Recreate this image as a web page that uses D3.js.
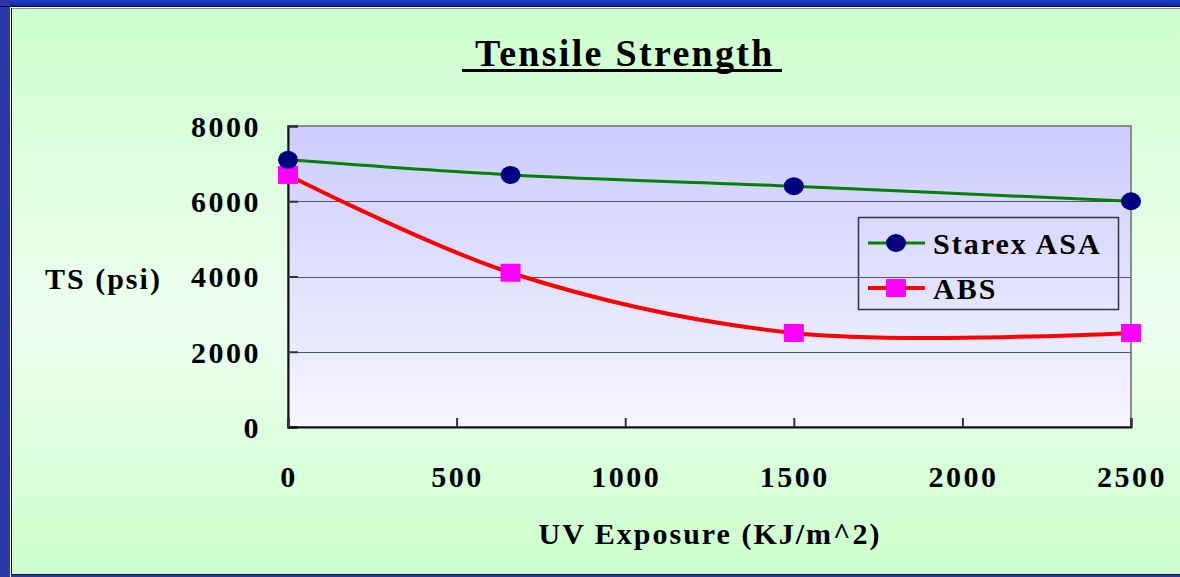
<!DOCTYPE html>
<html>
<head>
<meta charset="utf-8">
<script src="https://cdn.jsdelivr.net/npm/d3@7"></script>
<style>
  body { margin: 0; background: #ccffcc; }
  text { font-family: "Liberation Serif", "Times New Roman", serif; font-weight: bold; fill: #000; }
</style>
</head>
<body>
<script>
// data
var exposure = [0, 660, 1500, 2500];
var starexASA = [7100, 6700, 6400, 6000];
var abs = [6700, 4100, 2500, 2500];
var xTicks = [0, 500, 1000, 1500, 2000, 2500];
var yTicks = [0, 2000, 4000, 6000, 8000];
var seriesNames = ["Starex ASA", "ABS"];

var w = 1180, h = 577;
var plot = {left: 288, right: 1131, top: 126, bottom: 427};

var x = d3.scaleLinear().domain([0, 2500]).range([plot.left, plot.right]);
var y = d3.scaleLinear().domain([0, 8000]).range([plot.bottom, plot.top]);

const svg = d3.select("body").append("svg").attr("width", w).attr("height", h);
var defs = svg.append("defs");

// green page background, lighter in the middle
var gbg = defs.append("linearGradient").attr("id", "bg").attr("x1", 0).attr("y1", 0).attr("x2", 0).attr("y2", 1);
gbg.append("stop").attr("offset", "0%").attr("stop-color", "#ccffcc");
gbg.append("stop").attr("offset", "55%").attr("stop-color", "#eefff0");
gbg.append("stop").attr("offset", "100%").attr("stop-color", "#ccffcc");

var gplot = defs.append("linearGradient").attr("id", "pg").attr("x1", 0).attr("y1", 0).attr("x2", 0).attr("y2", 1);
gplot.append("stop").attr("offset", "0%").attr("stop-color", "#ccccff");
gplot.append("stop").attr("offset", "100%").attr("stop-color", "#f6f6ff");

var gtop = defs.append("linearGradient").attr("id", "tb").attr("x1", 0).attr("y1", 0).attr("x2", 0).attr("y2", 1);
gtop.append("stop").attr("offset", "0%").attr("stop-color", "#2040c8");
gtop.append("stop").attr("offset", "100%").attr("stop-color", "#0a2aa0");

svg.append("rect").attr("width", w).attr("height", h).attr("fill", "url(#bg)");

// frame
svg.append("rect").attr("x", 0).attr("y", 0).attr("width", w).attr("height", 6).attr("fill", "url(#tb)");
svg.append("rect").attr("x", 0).attr("y", 0).attr("width", 10).attr("height", h).attr("fill", "#2a38a8");
svg.append("line").attr("x1", 0).attr("x2", w).attr("y1", 6.5).attr("y2", 6.5).attr("stroke", "#000050");
svg.append("line").attr("x1", 10).attr("x2", w).attr("y1", 7.5).attr("y2", 7.5).attr("stroke", "#ffffff");
svg.append("line").attr("x1", 12).attr("x2", w).attr("y1", 8.5).attr("y2", 8.5).attr("stroke", "#8890a0");
svg.append("line").attr("x1", 10.5).attr("x2", 10.5).attr("y1", 7).attr("y2", h).attr("stroke", "#ffffff");
svg.append("line").attr("x1", 11.5).attr("x2", 11.5).attr("y1", 8).attr("y2", h).attr("stroke", "#000050");
svg.append("rect").attr("x", 11).attr("y", 574).attr("width", w).attr("height", 3).attr("fill", "#2a38a8");
svg.append("line").attr("x1", 11).attr("x2", w).attr("y1", 574.5).attr("y2", 574.5).attr("stroke", "#101040");

// title
svg.append("text").attr("x", 475).attr("y", 66)
  .style("font-size", "38px").style("letter-spacing", "2.3px").text("Tensile Strength");
svg.append("rect").attr("x", 462).attr("y", 69).attr("width", 320).attr("height", 3).attr("fill", "#000");

// plot area
svg.append("rect").attr("x", plot.left).attr("y", plot.top)
  .attr("width", plot.right - plot.left).attr("height", plot.bottom - plot.top)
  .attr("fill", "url(#pg)").attr("stroke", "#8a8a8a").attr("stroke-width", 2);

// gridlines
svg.append("g").selectAll("line").data(yTicks.filter(function(d){ return d > 0 && d < 8000; }))
  .enter().append("line")
  .attr("x1", plot.left).attr("x2", plot.right)
  .attr("y1", function(d){ return Math.round(y(d)) + 0.5; })
  .attr("y2", function(d){ return Math.round(y(d)) + 0.5; })
  .attr("stroke", "#555560").attr("stroke-width", 1);

// axes with inner ticks
var yAxis = svg.append("g").attr("transform", "translate(" + plot.left + ",0)")
  .call(d3.axisRight(y).tickValues(yTicks).tickSize(10).tickFormat(""));
var xAxis = svg.append("g").attr("transform", "translate(0," + plot.bottom + ")")
  .call(d3.axisTop(x).tickValues(xTicks).tickSize(9).tickFormat(""));
[xAxis, yAxis].forEach(function(a){
  a.select(".domain").attr("stroke", "#111").attr("stroke-width", 2);
  a.selectAll(".tick line").attr("stroke", "#333").attr("stroke-width", 2);
});

// tick labels
svg.append("g").selectAll("text").data(yTicks).enter().append("text")
  .attr("x", 261).attr("y", function(d){ return y(d); }).attr("dy", "0.36em")
  .attr("text-anchor", "end")
  .style("font-size", "30px").style("letter-spacing", "2.5px")
  .text(function(d){ return d; });
svg.append("g").selectAll("text").data(xTicks).enter().append("text")
  .attr("x", function(d){ return x(d) + 1; }).attr("y", 487)
  .attr("text-anchor", "middle")
  .style("font-size", "30px").style("letter-spacing", "2.5px")
  .text(function(d){ return d; });

// axis titles
svg.append("text").attr("x", 45).attr("y", 289)
  .style("font-size", "30px").style("letter-spacing", "2px").text("TS (psi)");
svg.append("text").attr("x", 710).attr("y", 544).attr("text-anchor", "middle")
  .style("font-size", "30px").style("letter-spacing", "2px").text("UV Exposure (KJ/m^2)");

// series
var line = d3.line().curve(d3.curveCatmullRom.alpha(0.5))
  .x(function(d){ return x(d[0]); }).y(function(d){ return y(d[1]); });

var asaPts = exposure.map(function(e, i){ return [e, starexASA[i]]; });
var absPts = exposure.map(function(e, i){ return [e, abs[i]]; });

svg.append("path").datum(asaPts).attr("d", line)
  .attr("fill", "none").attr("stroke", "#008000").attr("stroke-width", 3);
svg.append("path").datum(absPts).attr("d", line)
  .attr("fill", "none").attr("stroke", "#ff0000").attr("stroke-width", 4);

svg.append("g").selectAll("rect").data(absPts).enter().append("rect")
  .attr("x", function(d){ return x(d[0]) - 10; }).attr("y", function(d){ return y(d[1]) - 9; })
  .attr("width", 20).attr("height", 18).attr("fill", "#ff00ff");
svg.append("g").selectAll("ellipse").data(asaPts).enter().append("ellipse")
  .attr("cx", function(d){ return x(d[0]); }).attr("cy", function(d){ return y(d[1]); })
  .attr("rx", 10).attr("ry", 9).attr("fill", "#000080");

// legend
var leg = svg.append("g").attr("transform", "translate(858,217)");
leg.append("rect").attr("x", 0.5).attr("y", 0.5).attr("width", 260).attr("height", 92)
  .attr("fill", "none").attr("stroke", "#333344").attr("stroke-width", 1.5);
var colors = [["#008000", "#000080"], ["#ff0000", "#ff00ff"]];
seriesNames.forEach(function(name, i){
  var cy = 26 + i * 45;
  leg.append("line").attr("x1", 10).attr("x2", 67).attr("y1", cy).attr("y2", cy)
    .attr("stroke", colors[i][0]).attr("stroke-width", i ? 4 : 3);
  if (i === 0) {
    leg.append("ellipse").attr("cx", 38).attr("cy", cy).attr("rx", 10).attr("ry", 9).attr("fill", colors[i][1]);
  } else {
    leg.append("rect").attr("x", 28).attr("y", cy - 9).attr("width", 20).attr("height", 18).attr("fill", colors[i][1]);
  }
  leg.append("text").attr("x", 75).attr("y", cy).attr("dy", "0.36em")
    .style("font-size", "30px").style("letter-spacing", "2px").text(name);
});
</script>
</body>
</html>
